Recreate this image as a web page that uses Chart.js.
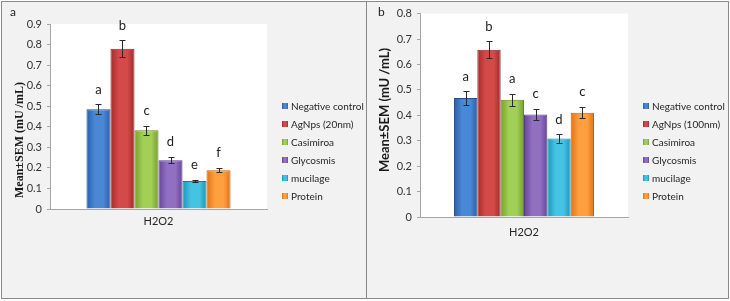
<!DOCTYPE html>
<html><head><meta charset="utf-8">
<script src="https://cdn.jsdelivr.net/npm/chart.js@4/dist/chart.umd.min.js"></script>
<style>
html,body{margin:0;padding:0;background:#fff;}
.panel{position:absolute;top:1px;height:298px;box-sizing:border-box;border:1px solid #8a8a8a;background:#f2f2f2;}
#pa{left:1px;width:366px;}
#pb{left:366px;width:363px;}
canvas{position:absolute;left:0;top:0;}
</style></head><body>
<div class="panel" id="pa"><canvas id="ca" width="364" height="296"></canvas></div>
<div class="panel" id="pb"><canvas id="cb" width="361" height="296"></canvas></div>
<script>
const categories = ['H2O2'];
const seriesNamesA = ['Negative control','AgNps (20nm)','Casimiroa','Glycosmis','mucilage','Protein'];
const seriesNamesB = ['Negative control','AgNps (100nm)','Casimiroa','Glycosmis','mucilage','Protein'];
const valuesA = [0.485, 0.78, 0.383, 0.237, 0.136, 0.188];
const errorsA = [0.024, 0.04, 0.021, 0.015, 0.006, 0.01];
const lettersA = ['a','b','c','d','e','f'];
const valuesB = [0.468, 0.658, 0.461, 0.403, 0.309, 0.41];
const errorsB = [0.026, 0.033, 0.024, 0.022, 0.016, 0.022];
const lettersB = ['a','b','a','c','d','c'];
const yMaxA = 0.9, yMaxB = 0.8, yStep = 0.1;

const colors = [
  {edge:'#2b5ea8', mid:'#4a88d6', line:'#24508f'},
  {edge:'#a22b2b', mid:'#d44a48', line:'#8c2424'},
  {edge:'#74a02c', mid:'#a2cf56', line:'#62892a'},
  {edge:'#66449a', mid:'#9170c2', line:'#573a84'},
  {edge:'#1d93b6', mid:'#44c4e2', line:'#187f9d'},
  {edge:'#e07214', mid:'#ffa040', line:'#c0600f'}
];
const sansFont = 'Lato, "Liberation Sans", sans-serif';

function makeGrad(ctx, x0, x1, c){
  const g = ctx.createLinearGradient(x0,0,x1,0);
  g.addColorStop(0, c.edge);
  g.addColorStop(0.35, c.mid);
  g.addColorStop(0.7, c.mid);
  g.addColorStop(1, c.edge);
  return g;
}

const decorPlugin = {
  id:'decor',
  beforeDraw(chart, args, opts){
    const {ctx, chartArea:a} = chart;
    ctx.save();
    ctx.fillStyle = '#ffffff';
    ctx.fillRect(a.left, a.top, a.right-a.left, a.bottom-a.top);
    ctx.restore();
  },
  beforeDatasetsDraw(chart){
    const ctx = chart.ctx;
    chart.data.datasets.forEach((ds,i)=>{
      const meta = chart.getDatasetMeta(i);
      meta.data.forEach(el=>{
        const x0 = el.x - el.width/2, x1 = el.x + el.width/2;
        el.options.backgroundColor = makeGrad(ctx, x0, x1, colors[i]);
      });
    });
  },
  afterDatasetsDraw(chart, args, opts){
    const ctx = chart.ctx, y = chart.scales.y;
    ctx.save();
    chart.data.datasets.forEach((ds,i)=>{
      const el = chart.getDatasetMeta(i).data[0];
      const v = ds.data[0], e = opts.errors[i];
      const yt = y.getPixelForValue(v+e), yb = y.getPixelForValue(v-e);
      ctx.strokeStyle = '#2a2a2a'; ctx.lineWidth = 1;
      ctx.beginPath();
      const x = Math.round(el.x)+0.5;
      ctx.moveTo(x, Math.round(yt)+0.5); ctx.lineTo(x, Math.round(yb)+0.5);
      ctx.moveTo(x-3, Math.round(yt)+0.5); ctx.lineTo(x+3, Math.round(yt)+0.5);
      ctx.moveTo(x-3, Math.round(yb)+0.5); ctx.lineTo(x+3, Math.round(yb)+0.5);
      ctx.stroke();
      ctx.fillStyle = '#222';
      ctx.font = '13px ' + sansFont;
      ctx.textAlign = 'center'; ctx.textBaseline = 'middle';
      ctx.fillText(opts.letters[i], el.x, yt - 15);
    });
    ctx.restore();
  },
  afterDraw(chart, args, opts){
    const ctx = chart.ctx, a = chart.chartArea;
    ctx.save();
    // panel letter
    ctx.fillStyle = '#222';
    ctx.font = '12px ' + sansFont;
    ctx.textAlign = 'left'; ctx.textBaseline = 'middle';
    ctx.fillText(opts.panel, opts.panelX, 10);
    // y title
    ctx.save();
    ctx.translate(18, opts.titleY);
    ctx.rotate(-Math.PI/2);
    ctx.font = opts.titleFont;
    ctx.textAlign = 'center'; ctx.textBaseline = 'middle';
    ctx.fillStyle = '#1a1a1a';
    ctx.fillText('Mean±SEM (mU /mL)', 0, 0);
    ctx.restore();
    // legend
    const names = chart.data.datasets.map(d=>d.label);
    const step = 18, n = names.length;
    const y0 = chart.height/2 - step*(n-1)/2 + 1;
    const bx = a.right + 15;
    ctx.font = '10px ' + sansFont;
    ctx.textBaseline = 'middle';
    names.forEach((nm,i)=>{
      const cy = y0 + i*step;
      ctx.fillStyle = makeGrad(ctx, bx, bx+6, colors[i]);
      ctx.fillRect(bx, cy-3, 6, 6);
      ctx.fillStyle = '#262626';
      ctx.fillText(nm, bx+9, cy+0.5);
    });
    ctx.restore();
  }
};

function build(id, names, values, errors, letters, yMax, cfg){
  const datasets = names.map((nm,i)=>({
    label: nm,
    data: [values[i]],
    backgroundColor: colors[i].mid,
    borderColor: colors[i].line,
    borderWidth: 1,
    categoryPercentage: cfg.catPct,
    barPercentage: 1.0
  }));
  return new Chart(document.getElementById(id), {
    type:'bar',
    data:{labels: categories, datasets},
    plugins:[decorPlugin],
    options:{
      responsive:false, animation:false,
      layout:{padding:{left:0, right:cfg.padRight, top:cfg.padTop, bottom:cfg.padBottom}},
      plugins:{
        legend:{display:false}, tooltip:{enabled:false},
        decor:{errors, letters, panel:cfg.panel, panelX:cfg.panelX, titleY:cfg.titleY, titleFont:cfg.titleFont}
      },
      scales:{
        x:{
          grid:{display:false, drawTicks:false},
          border:{display:true, color:'#a6a6a6'},
          ticks:{padding:cfg.xPad, color:'#262626', font:{family:sansFont, size:11}},
          afterFit(s){ s.height = 20; }
        },
        y:{
          min:0, max:yMax,
          grid:{drawOnChartArea:false, drawTicks:true, tickLength:3, color:'#a6a6a6'},
          border:{display:true, color:'#a6a6a6'},
          ticks:{stepSize:yStep, padding:5, color:'#333', font:{family:sansFont, size:11},
                 callback:(v)=>Number(v.toFixed(1)).toString()},
          afterFit(s){ s.width = cfg.yWidth; }
        }
      }
    }
  });
}

build('ca', seriesNamesA, valuesA, errorsA, lettersA, yMaxA, {
  catPct:0.664, padRight:99, padTop:22, padBottom:69, xPad:6, yWidth:48,
  panel:'a', panelX:8, titleY:138, titleFont:'bold 12px "Liberation Serif", serif'
});
build('cb', seriesNamesB, valuesB, errorsB, lettersB, yMaxB, {
  catPct:0.673, padRight:100, padTop:11, padBottom:61, xPad:9, yWidth:53,
  panel:'b', panelX:11, titleY:108, titleFont:'bold 13px ' + sansFont
});
</script>
</body></html>
